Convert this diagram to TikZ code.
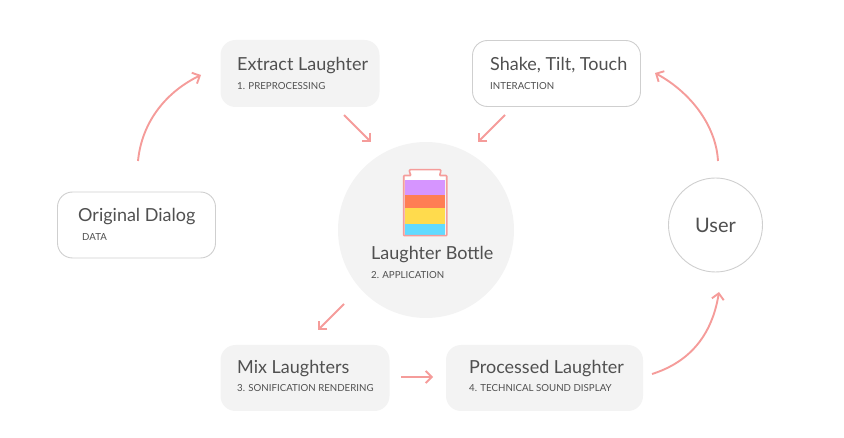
\documentclass[tikz,border=0pt]{standalone}
\usepackage{fontspec}
\setmainfont{Lato}
\usetikzlibrary{arrows.meta}
\definecolor{fillgray}{HTML}{F3F3F3}
\definecolor{linegray}{HTML}{CFCFCF}
\definecolor{textgray}{HTML}{505050}
\definecolor{arrowpink}{HTML}{F59C9A}
\begin{document}
\begin{tikzpicture}[x=1pt,y=-1pt,
  box/.style={rectangle,rounded corners=15pt,inner sep=0pt,outer sep=0pt,anchor=north west},
  filledbox/.style={box,fill=fillgray},
  linedbox/.style={box,draw=linegray,line width=0.9pt,fill=white},
  title/.style={anchor=base west,inner sep=0pt,text=textgray,font=\fontsize{18}{20}\selectfont},
  sub/.style={anchor=base west,inner sep=0pt,text=textgray,font=\fontsize{9.7}{11}\selectfont},
  flow/.style={draw=arrowpink,line width=1.9pt,-{Straight Barb[length=6pt,width=12pt,line width=1.9pt]}}
]
\useasboundingbox (0,0) rectangle (844,438);
% boxes
\node[filledbox,minimum width=159pt,minimum height=67pt] (extract) at (220.5,40) {};
\node[linedbox,minimum width=168pt,minimum height=66pt] (shake) at (472.5,40.5) {};
\node[linedbox,minimum width=158pt,minimum height=66pt] (dialog) at (57.5,192) {};
\node[filledbox,minimum width=169pt,minimum height=66pt] (mix) at (220.5,345) {};
\node[filledbox,minimum width=197pt,minimum height=66pt] (processed) at (446,345) {};
\node[circle,fill=fillgray,minimum size=176pt,inner sep=0pt,outer sep=0pt] (bottle) at (426,230) {};
\node[circle,draw=linegray,line width=0.9pt,fill=white,minimum size=94pt,inner sep=0pt,outer sep=0pt] (user) at (715.5,225) {};
% bottle drawing
\fill[fill=white] (405,175) rectangle (445,181);
\fill[fill=white] (410,170) rectangle (440,178);
\fill[fill={rgb,255:red,214;green,149;blue,255}] (405,180) rectangle (445,195);
\fill[fill={rgb,255:red,255;green,126;blue,84}] (405,195) rectangle (445,208);
\fill[fill={rgb,255:red,255;green,219;blue,77}] (405,208) rectangle (445,224.5);
\fill[fill={rgb,255:red,97;green,218;blue,255}] (405,224.5) rectangle (445,235);
\draw[arrowpink,line width=1.6pt,line join=round,rounded corners=0.8pt]
  (409.5,169.7) -- (440.7,169.7) -- (440.7,172) -- (439.5,175.5) -- (446.8,175.5) -- (446.8,235.7)
  -- (403.7,235.7) -- (403.7,175.5) -- (411,175.5) -- (409.5,172) -- cycle;
% texts
\node[title] (t1) at (237,71) {Extract Laughter};
\node[sub] (s1) at (237,90) {1. PREPROCESSING};
\node[title] (t2) at (490,71) {Shake, Tilt, Touch};
\node[sub] (s2) at (490,90) {INTERACTION};
\node[title] (t3) at (78,222) {Original Dialog};
\node[sub] (s3) at (82,241) {DATA};
\node[title] (t4) at (371,259.5) {Laughter Bottle};
\node[sub] (s4) at (371,279) {2. APPLICATION};
\node[title] (t5) at (237,373.5) {Mix Laughters};
\node[sub] (s5) at (237,391.5) {3. SONIFICATION RENDERING};
\node[title] (t6) at (469,373.5) {Processed Laughter};
\node[sub] (s6) at (469,391.5) {4. TECHNICAL SOUND DISPLAY};
\node[anchor=base,inner sep=0pt,text=textgray,font=\fontsize{20}{22}\selectfont] (t7) at (715.5,232.5) {User};
% connector ends
\coordinate (a1s) at (138,161); \coordinate (a1e) at (201,75);
\coordinate (a2s) at (344,115); \coordinate (a2e) at (371,142);
\coordinate (a3s) at (505,115); \coordinate (a3e) at (478,142);
\coordinate (a4s) at (718,161); \coordinate (a4e) at (655,73);
\coordinate (a5s) at (344,304); \coordinate (a5e) at (318,330);
\coordinate (a6s) at (401,377); \coordinate (a6e) at (433,377);
\coordinate (a7s) at (652,374); \coordinate (a7e) at (719,292);
% connectors
\draw[flow] (a1s) .. controls (142,120) and (168,91) .. (a1e);
\draw[flow] (a2s) -- (a2e);
\draw[flow] (a3s) -- (a3e);
\draw[flow] (a4s) .. controls (716,125) and (690,92) .. (a4e);
\draw[flow] (a5s) -- (a5e);
\draw[flow] (a6s) -- (a6e);
\draw[flow] (a7s) .. controls (690,362) and (712,335) .. (a7e);
\end{tikzpicture}
\end{document}
